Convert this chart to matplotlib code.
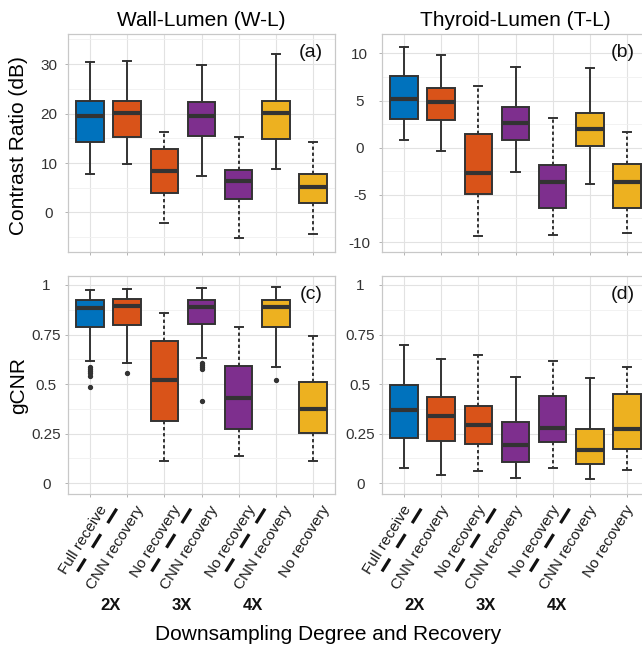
#! /usr/bin/env python
import numpy as np
import matplotlib
matplotlib.use('Agg')
import matplotlib.pyplot as plt
from matplotlib import transforms

plt.rcParams['font.family'] = ['Liberation Sans', 'DejaVu Sans']

tick_labels = ['Full receive', 'CNN recovery', 'No recovery', 'CNN recovery',
               'No recovery', 'CNN recovery', 'No recovery']
group_labels = ['2X', '3X', '4X']
box_colors = ['#0072BD', '#D95319', '#D95319', '#7E2F8E', '#7E2F8E', '#EDB120', '#EDB120']
dashed_whisker = [False, False, True, False, True, False, True]

# (a) wall-lumen contrast ratio (dB)
wl_cr_low = [7.8, 9.9, -2.1, 7.4, -5.1, 8.7, -4.4]
wl_cr_q1 = [14.3, 15.2, 4.0, 15.4, 2.7, 14.8, 2.0]
wl_cr_med = [19.5, 20.2, 8.4, 19.5, 6.3, 20.1, 5.1]
wl_cr_q3 = [22.5, 22.6, 12.8, 22.4, 8.6, 22.5, 7.7]
wl_cr_high = [30.4, 30.7, 16.3, 29.9, 15.2, 32.1, 14.3]

# (b) thyroid-lumen contrast ratio (dB)
tl_cr_low = [0.8, -0.35, -9.4, -2.6, -9.2, -3.8, -9.0]
tl_cr_q1 = [3.0, 2.9, -4.9, 0.8, -6.4, 0.2, -6.4]
tl_cr_med = [5.2, 4.8, -2.7, 2.6, -3.6, 2.0, -3.6]
tl_cr_q3 = [7.6, 6.3, 1.5, 4.3, -1.8, 3.7, -1.7]
tl_cr_high = [10.7, 9.8, 6.5, 8.6, 3.2, 8.4, 1.7]

# (c) wall-lumen gCNR
wl_gcnr_low = [0.618, 0.605, 0.113, 0.632, 0.139, 0.588, 0.113]
wl_gcnr_q1 = [0.79, 0.798, 0.314, 0.805, 0.276, 0.787, 0.255]
wl_gcnr_med = [0.882, 0.896, 0.523, 0.891, 0.429, 0.891, 0.373]
wl_gcnr_q3 = [0.924, 0.929, 0.716, 0.923, 0.59, 0.926, 0.511]
wl_gcnr_high = [0.975, 0.98, 0.86, 0.987, 0.787, 0.992, 0.745]
wl_gcnr_out = [[0.588, 0.576, 0.566, 0.555, 0.543, 0.487], [0.558], [],
               [0.608, 0.597, 0.585, 0.575, 0.415], [], [0.523], []]

# (d) thyroid-lumen gCNR
tl_gcnr_low = [0.077, 0.04, 0.062, 0.029, 0.077, 0.024, 0.067]
tl_gcnr_q1 = [0.229, 0.215, 0.198, 0.108, 0.208, 0.097, 0.175]
tl_gcnr_med = [0.37, 0.341, 0.292, 0.193, 0.281, 0.168, 0.276]
tl_gcnr_q3 = [0.494, 0.435, 0.392, 0.309, 0.439, 0.272, 0.452]
tl_gcnr_high = [0.696, 0.627, 0.645, 0.536, 0.617, 0.531, 0.587]

W, H = 642.0, 652.0
EDGE = '#333333'
ANGLE = 58


def px_axes(fig, x0, y0, x1, y1):
  return fig.add_axes([x0 / W, 1 - y1 / H, (x1 - x0) / W, (y1 - y0) / H])


def draw_boxes(ax, low, q1, med, q3, high, out=None):
  stats = []
  for i in range(len(med)):
    stats.append(dict(whislo=low[i], q1=q1[i], med=med[i], q3=q3[i], whishi=high[i],
                      fliers=out[i] if out else []))
  bp = ax.bxp(stats, positions=np.arange(1, len(med) + 1), widths=0.75, capwidths=0.22,
              patch_artist=True, showfliers=True,
              boxprops=dict(edgecolor=EDGE, linewidth=1.4),
              whiskerprops=dict(color=EDGE, linewidth=1.4),
              capprops=dict(color=EDGE, linewidth=1.4),
              medianprops=dict(color=EDGE, linewidth=3.0, solid_capstyle='butt'),
              flierprops=dict(marker='o', markersize=2.8, markerfacecolor=EDGE,
                              markeredgecolor=EDGE, linestyle='none'))
  for i, patch in enumerate(bp['boxes']):
    patch.set_facecolor(box_colors[i])
    if dashed_whisker[i]:
      bp['whiskers'][2 * i].set_linestyle((0, (1.7, 1.4)))
      bp['whiskers'][2 * i + 1].set_linestyle((0, (1.7, 1.4)))


def style_axes(ax, ylim, yticks, yticklabels, yminor, ypad):
  ax.set_xlim(0.4, 7.6)
  ax.set_ylim(*ylim)
  ax.set_xticks(np.arange(1, 8))
  ax.set_xticklabels([])
  ax.set_yticks(yticks)
  ax.set_yticklabels(yticklabels)
  ax.set_yticks(yminor, minor=True)
  ax.set_axisbelow(True)
  ax.grid(True, which='major', color='#e2e2e2', linewidth=0.8)
  ax.grid(True, which='minor', axis='y', color='#f0f0f0', linewidth=0.6)
  for s in ax.spines.values():
    s.set_color('#c8c8c8')
    s.set_linewidth(0.9)
  ax.tick_params(which='major', length=2.2, width=0.7, color='#b3b3b3')
  ax.tick_params(which='minor', length=0)
  ax.tick_params(axis='y', labelsize=11, labelcolor='#333333', pad=ypad)
  plt.setp(ax.get_yticklabels(), ha='center')


def label_x(fig, ax, shift):
  # rotated category labels under a bottom panel
  for i, lab in enumerate(tick_labels):
    tr = transforms.offset_copy(ax.get_xaxis_transform(), fig=fig, x=shift + 4, y=-13, units='dots')
    ax.text(i + 1, 0, lab, transform=tr, rotation=ANGLE, rotation_mode='anchor',
            ha='right', va='center', fontsize=11, color='#1a1a1a', clip_on=False)
  # dashed separators between groups
  rot = transforms.Affine2D().rotate_deg(180 + ANGLE)
  for xm in [1.5, 3.5, 5.5]:
    tr = rot + transforms.Affine2D().translate(shift - 1.6, -14.7) + \
      transforms.ScaledTranslation(xm, 0, ax.get_xaxis_transform())
    ax.plot([0, 17, np.nan, 30, 46, np.nan, 59, 74], [0, 0, np.nan, 0, 0, np.nan, 0, 0],
            transform=tr, color='#111111', linewidth=2.3, solid_capstyle='butt', clip_on=False)
  for i, g in enumerate(group_labels):
    tr = transforms.offset_copy(ax.get_xaxis_transform(), fig=fig, x=shift - 45 - 3 * i, y=-111,
                                units='dots')
    ax.text(2 * i + 2.5, 0, g, transform=tr, ha='center', va='center', fontsize=12,
            fontweight='bold', color='#111111', clip_on=False)


if __name__ == "__main__":
  fig = plt.figure(figsize=(6.42, 6.52), dpi=100)
  ax_a = px_axes(fig, 68, 34, 335, 252)
  ax_b = px_axes(fig, 382, 34, 649, 252)
  ax_c = px_axes(fig, 68, 276, 335, 494)
  ax_d = px_axes(fig, 382, 276, 649, 494)

  draw_boxes(ax_a, wl_cr_low, wl_cr_q1, wl_cr_med, wl_cr_q3, wl_cr_high)
  draw_boxes(ax_b, tl_cr_low, tl_cr_q1, tl_cr_med, tl_cr_q3, tl_cr_high)
  draw_boxes(ax_c, wl_gcnr_low, wl_gcnr_q1, wl_gcnr_med, wl_gcnr_q3, wl_gcnr_high, wl_gcnr_out)
  draw_boxes(ax_d, tl_gcnr_low, tl_gcnr_q1, tl_gcnr_med, tl_gcnr_q3, tl_gcnr_high)

  g_ticks = [0, 0.25, 0.5, 0.75, 1]
  g_labels = ['0', '0.25', '0.5', '0.75', '1']
  g_minor = [0.125, 0.375, 0.625, 0.875]
  style_axes(ax_a, (-8.0, 36.1), [0, 10, 20, 30], ['0', '10', '20', '30'], [-5, 5, 15, 25, 35], 11.5)
  style_axes(ax_b, (-11.05, 12.05), [-10, -5, 0, 5, 10], ['-10', '-5', '0', '5', '10'],
             [-7.5, -2.5, 2.5, 7.5], 13.8)
  style_axes(ax_c, (-0.054, 1.045), g_ticks, g_labels, g_minor, 13.5)
  style_axes(ax_d, (-0.054, 1.045), g_ticks, g_labels, g_minor, 13.5)

  ax_a.set_title('Wall-Lumen (W-L)', fontsize=15, pad=6)
  ax_b.set_title('Thyroid-Lumen (T-L)', fontsize=15, pad=6)
  ax_a.set_ylabel('Contrast Ratio (dB)', fontsize=15)
  ax_a.yaxis.set_label_coords(-0.15, 0.49)
  ax_c.set_ylabel('gCNR', fontsize=15)
  ax_c.yaxis.set_label_coords(-0.15, 0.5)

  for ax, tag, xr in [(ax_a, '(a)', 0.955), (ax_b, '(b)', 0.948), (ax_c, '(c)', 0.955), (ax_d, '(d)', 0.948)]:
    ax.text(xr, 0.915, tag, transform=ax.transAxes, ha='right', va='center', fontsize=14, color='#111111')

  label_x(fig, ax_c, 9.5)
  label_x(fig, ax_d, 0)

  fig.text(328 / W, 1 - 635 / H, 'Downsampling Degree and Recovery', ha='center', va='center', fontsize=15)
  fig.savefig('out.png', dpi=100)
